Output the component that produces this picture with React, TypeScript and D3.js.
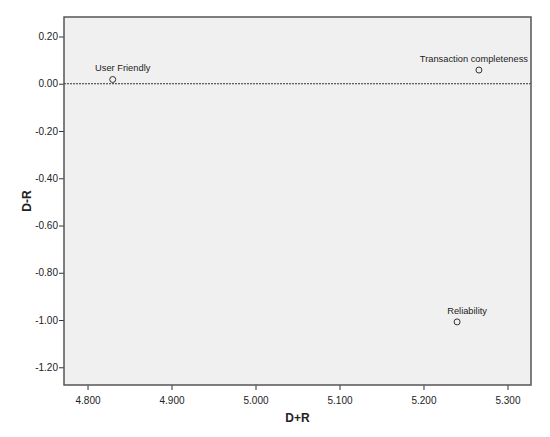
import * as d3 from 'd3';
import React, { useRef, useEffect } from 'react';

const labels = ['User Friendly', 'Transaction completeness', 'Reliability'];
const dPlusR = [4.83, 5.266, 5.24];
const dMinusR = [0.018, 0.058, -1.008];
const xTicks = [4.8, 4.9, 5.0, 5.1, 5.2, 5.3];
const yTicks = [0.2, 0, -0.2, -0.4, -0.6, -0.8, -1.0, -1.2];

function App() {
  const svgRef = useRef<SVGSVGElement>(null);

  useEffect(() => {
    const margin = { top: 17, right: 19, bottom: 52, left: 64 },
      width = 550 - margin.left - margin.right,
      height = 437 - margin.top - margin.bottom;

    const root = d3.select(svgRef.current);
    root.selectAll('*').remove();
    root.attr('width', 550).attr('height', 437);

    const svg = root
      .append('g')
      .attr('transform', 'translate(' + margin.left + ',' + margin.top + ')');

    const x = d3.scaleLinear().domain([4.772, 5.328]).range([0, width]);
    const y = d3.scaleLinear().domain([0.2825, -1.275]).range([0, height]);

    // plain hyphen minus like the original
    const fmt = (n: number) => (n < 0 ? '-' : '') + Math.abs(n).toFixed(2);

    // plot background
    svg
      .append('rect')
      .attr('width', width)
      .attr('height', height)
      .attr('fill', '#f0f0f0');

    // reference line at 0
    svg
      .append('line')
      .attr('x1', 0)
      .attr('x2', width)
      .attr('y1', y(0))
      .attr('y2', y(0))
      .attr('stroke', '#333')
      .attr('stroke-width', 1)
      .attr('stroke-dasharray', '2,1');

    // axes
    const xAxis = svg
      .append('g')
      .attr('transform', 'translate(0,' + height + ')')
      .call(
        d3
          .axisBottom(x)
          .tickValues(xTicks)
          .tickFormat((d) => (d as number).toFixed(3))
          .tickSize(5)
          .tickSizeOuter(0)
      );
    const yAxis = svg
      .append('g')
      .call(
        d3
          .axisLeft(y)
          .tickValues(yTicks)
          .tickFormat((d) => fmt(d as number))
          .tickSize(5)
          .tickSizeOuter(0)
      );
    [xAxis, yAxis].forEach((a) => {
      a.select('.domain').remove();
      a.selectAll('line').attr('stroke', '#333');
      a.selectAll('text')
        .attr('fill', '#222')
        .style('font-family', 'Liberation Sans, Arial, sans-serif')
        .style('font-size', '10px');
    });
    xAxis.selectAll('text').attr('dy', '1.1em');
    yAxis.selectAll('text').attr('x', -6);

    // frame
    svg
      .append('rect')
      .attr('width', width)
      .attr('height', height)
      .attr('fill', 'none')
      .attr('stroke', '#555')
      .attr('stroke-width', 1.5);

    // points
    const pts = labels.map((l, i) => ({ l, x: dPlusR[i], y: dMinusR[i] }));
    svg
      .selectAll('circle.pt')
      .data(pts)
      .enter()
      .append('circle')
      .attr('class', 'pt')
      .attr('cx', (d) => x(d.x))
      .attr('cy', (d) => y(d.y))
      .attr('r', 3)
      .attr('fill', 'none')
      .attr('stroke', '#333')
      .attr('stroke-width', 1);

    // labels sit a bit right of the point, pushed back inside the frame
    svg
      .selectAll('text.lbl')
      .data(pts)
      .enter()
      .append('text')
      .attr('class', 'lbl')
      .attr('y', (d) => y(d.y) - 8)
      .attr('text-anchor', 'start')
      .attr('fill', '#222')
      .style('font-family', 'Liberation Sans, Arial, sans-serif')
      .style('font-size', '9.3px')
      .text((d) => d.l)
      .attr('x', function (d) {
        const w = (this as SVGTextElement).getComputedTextLength();
        const left = x(d.x) + 10 - w / 2;
        return Math.min(left, width - 3 - w);
      });

    // axis titles
    root
      .append('text')
      .attr('x', margin.left + width / 2)
      .attr('y', 422)
      .attr('text-anchor', 'middle')
      .style('font-family', 'Liberation Sans, Arial, sans-serif')
      .style('font-size', '12px')
      .style('font-weight', 'bold')
      .attr('fill', '#222')
      .text('D+R');
    root
      .append('text')
      .attr('transform', 'translate(31,' + (margin.top + height / 2) + ') rotate(-90)')
      .attr('text-anchor', 'middle')
      .style('font-family', 'Liberation Sans, Arial, sans-serif')
      .style('font-size', '12px')
      .style('font-weight', 'bold')
      .attr('fill', '#222')
      .text('D-R');
  }, []);

  return (
    <div style={{ position: 'absolute', left: 0, top: 0 }}>
      <svg ref={svgRef} style={{ display: 'block' }}></svg>
    </div>
  );
}

export default App;
